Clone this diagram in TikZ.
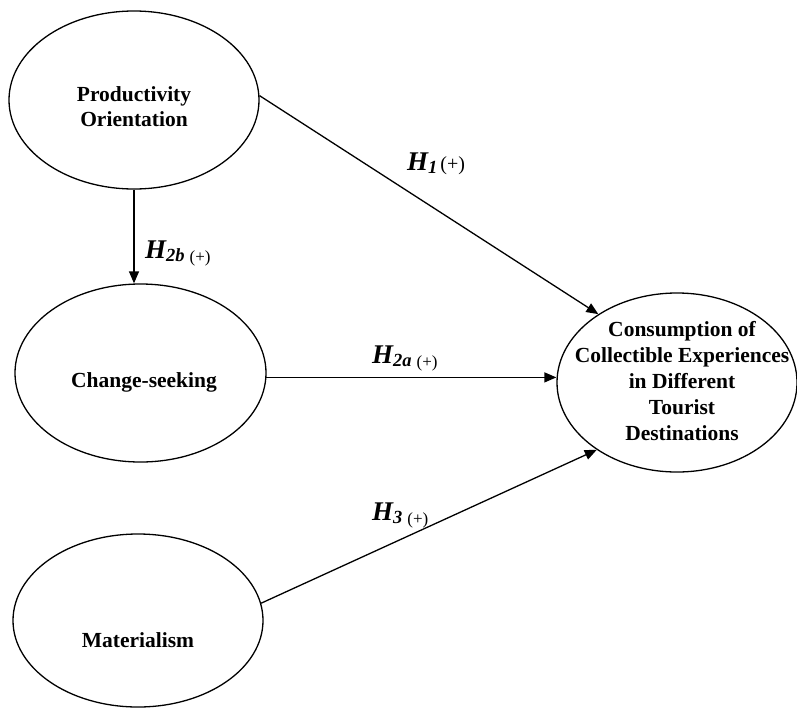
\documentclass[tikz,border=0pt]{standalone}
\usepackage{fontspec}
\setmainfont{Liberation Serif}
\usetikzlibrary{shapes.geometric,arrows.meta}
\tikzset{
  ell/.style={draw, ellipse, line width=1.3pt, inner sep=0pt},
  ltext/.style={font=\fontsize{21.5}{25}\selectfont\bfseries, align=center, inner sep=0pt},
  conn/.style={line width=1.3pt, -{Triangle[length=12pt,width=10pt]}},
  hlab/.style={anchor=base west, inner sep=0pt}
}
\newcommand{\hbig}{{\fontsize{27}{27}\selectfont\bfseries\itshape H}}
\newcommand{\hsub}[1]{\raisebox{-3pt}{\fontsize{18.5}{18.5}\selectfont\bfseries\itshape #1}}
\newcommand{\psub}{\hspace{5pt}\raisebox{-4pt}{\fontsize{17}{17}\selectfont (+)}}
\begin{document}
\begin{tikzpicture}[x=1pt,y=-1pt]
\useasboundingbox (0,0) rectangle (797,707);
% ellipses
\node[ell, minimum width=250pt, minimum height=178pt] (p) at (134,100) {};
\node[ell, minimum width=251pt, minimum height=178pt] (cs) at (140.5,373) {};
\node[ell, minimum width=250pt, minimum height=173pt] (m) at (138,620.5) {};
\node[ell, minimum width=240pt, minimum height=179pt] (c) at (677,382.5) {};
% texts
\node[ltext] (pt) at (134,107) {Productivity\\Orientation};
\node[ltext] (cst) at (144,382) {Change-seeking};
\node[ltext] (mt) at (138,640) {Materialism};
\node[ltext, font=\fontsize{21.5}{26}\selectfont\bfseries] (ct) at (682,381) {Consumption of\\Collectible Experiences\\in Different\\Tourist\\Destinations};
% connectors
\draw[conn] (p.2) -- (c.139.4);
\draw[conn] (p.south) -- (p.south |- cs.north);
\draw[conn] (cs.-2) -- (cs.-2 -| c.west);
\draw[conn] (m.8.3) -- (c.220.4);
% labels
\node[hlab] (l1) at (407,170) {\hbig\hsub{1}\hspace{3pt}{\fontsize{20}{20}\selectfont(+)}};
\node[hlab] (l2b) at (145,258) {\hbig\hsub{2b}\psub};
\node[hlab] (l2a) at (372,363) {\hbig\hsub{2a}\psub};
\node[hlab] (l3) at (372,520) {\hbig\hsub{3}\psub};
\end{tikzpicture}
\end{document}
